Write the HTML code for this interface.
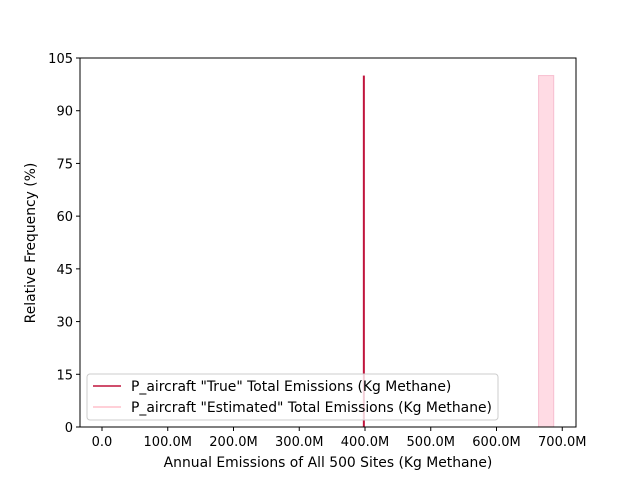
<!DOCTYPE html>
<html><head><meta charset="utf-8"><style>
body{margin:0;background:#fff;font-family:"Liberation Sans","DejaVu Sans",sans-serif;}
svg text{font-family:"DejaVu Sans","Liberation Sans",sans-serif;fill:#000;}
.tk{font-size:13px;}
.big{font-size:13.9px;}
</style></head><body>
<svg id="chart" width="640" height="480" xmlns="http://www.w3.org/2000/svg">
<rect width="640" height="480" fill="#fff"/>
<g id="plot"></g>
</svg>
<script>
const xTicks=[0,100,200,300,400,500,600,700];
const yTicks=[0,15,30,45,60,75,90,105];
const trueBin=[397.5,398.5];
const trueValue=[100];
const estBin=[664,687];
const estValue=[100];
const L=80,R=576,T=58,B=427;
const x=v=>102+(v/100)*65.75;
const y=v=>B-(v/105)*(B-T);
const ns="http://www.w3.org/2000/svg";
const g=document.getElementById('plot');
function mk(t,a,p){const e=document.createElementNS(ns,t);for(const k in a)e.setAttribute(k,a[k]);(p||g).appendChild(e);return e;}
let eb=mk('rect',{x:x(estBin[0]),y:y(estValue[0]),width:x(estBin[1])-x(estBin[0]),height:B-y(estValue[0]),fill:'#ffdbe4',stroke:'#f7bfd0','stroke-width':1});


let tb=mk('rect',{x:x(trueBin[0])-0.5,y:y(trueValue[0]),width:Math.max(2,x(trueBin[1])-x(trueBin[0])),height:B-y(trueValue[0]),fill:'#c0143c'});


let fr=mk('rect',{x:L,y:T,width:R-L,height:B-T,fill:'none',stroke:'#000','stroke-width':1});


xTicks.forEach(v=>{const px=x(v);
mk('line',{x1:px,x2:px,y1:B,y2:B+4,stroke:'#000'});
const t=mk('text',{x:px,y:B+19,'text-anchor':'middle','class':'tk'});t.textContent=v===0?'0.0':v.toFixed(1)+'M';

});
yTicks.forEach(v=>{const py=y(v);
mk('line',{x1:L-4,x2:L,y1:py,y2:py,stroke:'#000'});
const t=mk('text',{x:L-7,y:py+5,'text-anchor':'end','class':'tk'});t.textContent=v;

});
</script>
<svg style="position:absolute;left:0;top:0" width="640" height="480" xmlns="http://www.w3.org/2000/svg">
<text class="big" x="328" y="467" text-anchor="middle">Annual Emissions of All 500 Sites (Kg Methane)</text>
<text class="big" transform="translate(35,243) rotate(-90)" text-anchor="middle">Relative Frequency (%)</text>
<g>
<rect x="87" y="374" width="411" height="46" rx="3" fill="#fff" fill-opacity="0.8" stroke="#ccc"/>
<line x1="93" x2="121" y1="386" y2="386" stroke="#c0143c" stroke-width="1.5"/>
<text class="big" x="131" y="391">P_aircraft "True" Total Emissions (Kg Methane)</text>
<line x1="93" x2="121" y1="407" y2="407" stroke="#ffc0cb" stroke-width="1.5"/>
<text class="big" x="131" y="412">P_aircraft "Estimated" Total Emissions (Kg Methane)</text>
</g>
</svg>
</body></html>
